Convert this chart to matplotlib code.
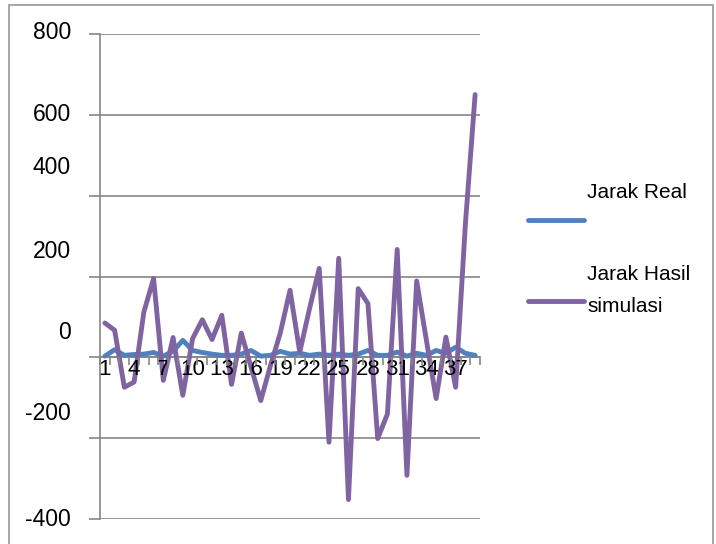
import matplotlib
matplotlib.use("Agg")
import matplotlib.pyplot as plt
import matplotlib.transforms as mtransforms
from matplotlib.lines import Line2D
from matplotlib.patches import Rectangle
import numpy as np

# data per test point (1..39)
points = list(range(1, 40))
jarak_real = [3, 19, 5, 7, 8, 12, 3, 15, 42, 17, 12, 8, 5, 5, 8, 17, 3, 5,
              15, 8, 10, 5, 8, 5, 8, 5, 8, 17, 5, 5, 13, 3, 10, 5, 17, 10,
              25, 10, 5]
jarak_simulasi = [85, 67, -74, -61, 112, 195, -57, 49, -94, 46, 93, 44, 104,
                  -67, 60, -24, -107, -20, 60, 166, 13, 120, 220, -210, 245,
                  -352, 170, 133, -201, -140, 267, -292, 189, 42, -102, 50,
                  -74, 330, 650]
y_ticks = [-400, -200, 0, 200, 400, 600, 800]
x_tick_labels = list(range(1, 40, 3))
# vertical shift of each y label (pixels, upward)
y_label_shift = [2, 27, 27, 28, 31, 3, 4]

GRID = "#868686"
BLUE = "#4f81bd"
PURPLE = "#8064a2"
FONT = "Liberation Sans"
LW = 3.5

W, H = 716, 544
fig = plt.figure(figsize=(W / 100, H / 100), dpi=100)
ax = fig.add_axes([100 / W, 25 / H, 380 / W, 485 / H])
ax.set_axisbelow(False)

# gridlines behind the series, axis labels on top
for v in y_ticks:
    ax.axhline(v, color=GRID, lw=1.2, zorder=1)

ax.plot(points, jarak_real, color=BLUE, lw=LW, solid_joinstyle="round",
        solid_capstyle="round", zorder=2)
ax.plot(points, jarak_simulasi, color=PURPLE, lw=LW, solid_joinstyle="round",
        solid_capstyle="round", zorder=2)

ax.set_xlim(0.5, 39.5)
ax.set_ylim(-400, 800)

# y axis
ax.set_yticks(y_ticks)
ax.set_yticklabels([str(v) for v in y_ticks], fontsize=16.5, family=FONT)
ax.tick_params(axis="y", length=8, width=1.2, color=GRID, pad=13)
for lab, dy in zip(ax.get_yticklabels(), y_label_shift):
    lab.set_transform(lab.get_transform() +
                      mtransforms.ScaledTranslation(0, dy / 100, fig.dpi_scale_trans))

# x axis sits on zero
ax.spines["bottom"].set_position(("data", 0))
ax.set_xticks(x_tick_labels)
ax.set_xticklabels([str(v) for v in x_tick_labels], fontsize=16, family=FONT)
ax.set_xticks(np.arange(0.5, 40, 1), minor=True)
ax.tick_params(axis="x", which="major", length=0, pad=1)
ax.tick_params(axis="x", which="minor", length=6, width=1.2, color=GRID)

for side in ("top", "right"):
    ax.spines[side].set_visible(False)
for side in ("left", "bottom"):
    ax.spines[side].set_color(GRID)
    ax.spines[side].set_linewidth(1.2)
    ax.spines[side].set_zorder(1)

# legend, text above/next to the line sample
def px(x, y):
    return x / W, 1 - y / H

for color, y_line in ((BLUE, 220), (PURPLE, 301)):
    (x0, y0), (x1, _) = px(528, y_line), px(584, y_line)
    fig.add_artist(Line2D([x0, x1], [y0, y0], color=color, lw=LW,
                          solid_capstyle="round", transform=fig.transFigure))
fig.text(*px(587, 198), "Jarak Real", fontsize=15, family=FONT, va="baseline")
fig.text(*px(587, 280), "Jarak Hasil", fontsize=15, family=FONT, va="baseline")
fig.text(*px(587, 312), "simulasi", fontsize=15, family=FONT, va="baseline")

# chart frame
fig.add_artist(Rectangle(px(9, 560), (713 - 9) / W, 555 / H, fill=False,
                         ec="#a6a6a6", lw=1.4, transform=fig.transFigure))

fig.savefig("out.png", dpi=100)
